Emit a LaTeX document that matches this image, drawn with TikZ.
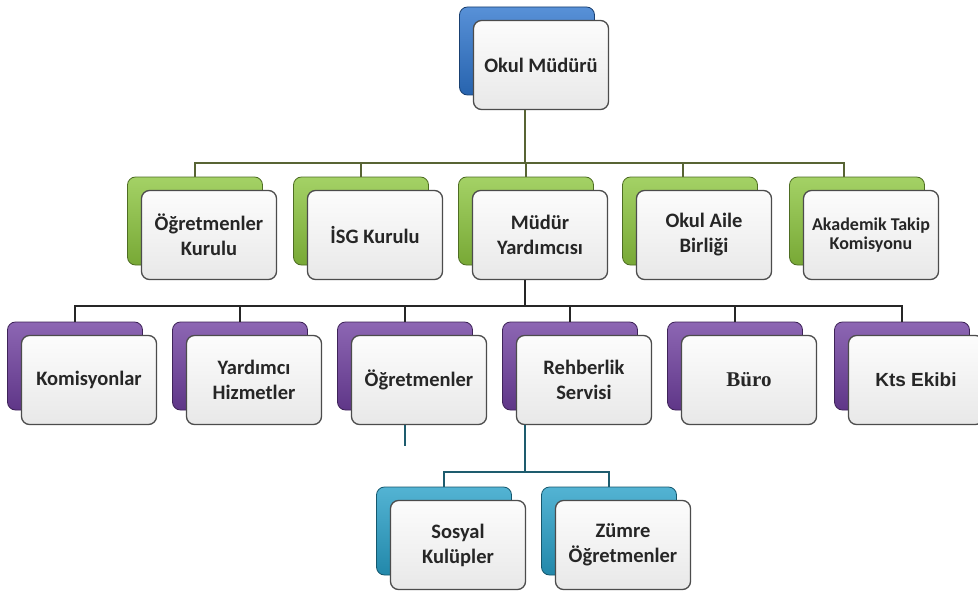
\documentclass[tikz,border=0pt]{standalone}
\usepackage{fontspec}
\setmainfont{Carlito}
\newfontfamily\timesbf{Liberation Serif}
\newfontfamily\arialbf{Liberation Sans}
\usepackage{tikz}
\definecolor{blu}{RGB}{46,117,205}
\definecolor{grn}{RGB}{141,198,63}
\definecolor{prp}{RGB}{112,64,160}
\definecolor{tea}{RGB}{40,160,200}
\definecolor{olv}{RGB}{88,100,52}
\definecolor{tdk}{RGB}{30,92,110}

\begin{document}
\begin{tikzpicture}[x=1pt,y=-1pt,
  back/.style={rounded corners=8pt,minimum width=135pt,minimum height=88pt,draw=#1!55!black,line width=0.8pt,top color=#1!80!white,bottom color=#1!85!black},
  front/.style={rounded corners=8pt,minimum width=135pt,minimum height=89pt,draw=black!70,line width=1.3pt,top color=black!1,bottom color=black!9,align=center,text=black!85,font=\fontsize{20.5}{25}\selectfont\bfseries},
  gline/.style={draw=olv,line width=1.7pt},
  pline/.style={draw=black!85,line width=1.9pt},
  tline/.style={draw=tdk,line width=1.7pt}]
\useasboundingbox [fill=white] (0,0) rectangle (978,594);
\node [back=blu] (mud) at (527,51) {};
\node [front] (mudf) at (541,65) {Okul Müdürü};
\node [back=grn] (g1) at (195,221) {};
\node [front] (g1f) at (209,235) {Öğretmenler\\Kurulu};
\node [back=grn] (g2) at (361,221) {};
\node [front] (g2f) at (375,235) {İSG Kurulu};
\node [back=grn] (g3) at (526,221) {};
\node [front] (g3f) at (540,235) {Müdür\\Yardımcısı};
\node [back=grn] (g4) at (690,221) {};
\node [front] (g4f) at (704,235) {Okul Aile\\Birliği};
\node [back=grn] (g5) at (857,221) {};
\node [front,font=\fontsize{18}{19.5}\selectfont\bfseries] (g5f) at (871,235) {Akademik Takip\\Komisyonu};
\node [back=prp] (p1) at (75,366) {};
\node [front] (p1f) at (89,380) {Komisyonlar};
\node [back=prp] (p2) at (240,366) {};
\node [front] (p2f) at (254,380) {Yardımcı\\Hizmetler};
\node [back=prp] (p3) at (405,366) {};
\node [front] (p3f) at (419,380) {Öğretmenler};
\node [back=prp] (p4) at (570,366) {};
\node [front] (p4f) at (584,380) {Rehberlik\\Servisi};
\node [back=prp] (p5) at (735,366) {};
\node [front,font=\fontsize{21}{25}\timesbf\bfseries] (p5f) at (749,380) {Büro};
\node [back=prp] (p6) at (902,366) {};
\node [front,font=\fontsize{19}{23}\arialbf\bfseries] (p6f) at (916,380) {Kts Ekibi};
\node [back=tea] (t1) at (444,531) {};
\node [front] (t1f) at (458,545) {Sosyal\\Kulüpler};
\node [back=tea] (t2) at (609,531) {};
\node [front] (t2f) at (623,545) {Zümre\\Öğretmenler};
\coordinate (gbus) at (525,163);
\coordinate (pbus) at (525,306);
\coordinate (tbus) at (525,472);
\coordinate (stub) at (405,446);
\draw [gline] (mudf.south -| gbus) -- (gbus);
\draw [gline] (g1.north) |- (gbus);
\draw [gline] (g2.north) -- (g2.north |- gbus);
\draw [gline] (g3.north) -- (g3.north |- gbus);
\draw [gline] ([xshift=-7pt]g4.north) -- ([xshift=-7pt]g4.north |- gbus);
\draw [gline] ([xshift=-13pt]g5.north) |- (gbus);
\draw [pline] (g3f.south -| pbus) -- (pbus);
\draw [pline] (p1.north) |- (pbus);
\draw [pline] (p2.north) -- (p2.north |- pbus);
\draw [pline] (p3.north) -- (p3.north |- pbus);
\draw [pline] (p4.north) -- (p4.north |- pbus);
\draw [pline] (p5.north) -- (p5.north |- pbus);
\draw [pline] (p6.north) |- (pbus);
\draw [tline] (p4f.south -| tbus) -- (tbus);
\draw [tline] (t1.north) |- (tbus);
\draw [tline] (t2.north) |- (tbus);
\draw [tline] (p3f.south -| stub) -- (stub);
\end{tikzpicture}
\end{document}
